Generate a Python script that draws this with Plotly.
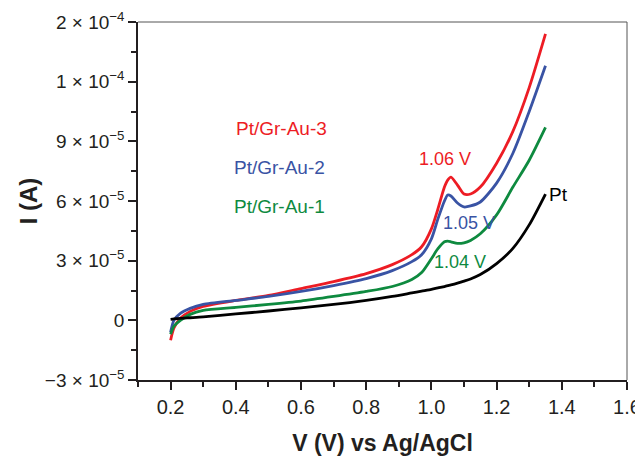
import plotly.graph_objects as go

# Potential (V vs Ag/AgCl)
V = [0.20, 0.21, 0.23, 0.26, 0.30, 0.40, 0.50, 0.60, 0.70, 0.80, 0.88, 0.94, 0.97,
     1.00, 1.02, 1.04, 1.05, 1.06, 1.08, 1.10, 1.12, 1.15, 1.20, 1.25, 1.30, 1.35]

# Current in units of 1e-5 A
I_au3 = [-1.0, -0.4, 0.1, 0.45, 0.7, 1.0, 1.25, 1.6, 1.95, 2.35, 2.8, 3.3, 3.7,
         4.6, 5.6, 6.7, 7.05, 7.2, 6.8, 6.35, 6.35, 6.7, 7.9, 9.5, 11.7, 14.4]
I_au2 = [-0.6, 0.0, 0.35, 0.6, 0.8, 1.0, 1.2, 1.45, 1.75, 2.1, 2.5, 2.95, 3.3,
         4.1, 5.1, 6.0, 6.3, 6.25, 5.9, 5.7, 5.75, 5.95, 6.9, 8.4, 10.5, 12.8]
I_au1 = [-0.7, -0.3, 0.0, 0.3, 0.5, 0.65, 0.8, 0.97, 1.2, 1.45, 1.7, 2.05, 2.4,
         3.1, 3.6, 3.95, 3.98, 3.95, 3.87, 3.9, 4.02, 4.35, 5.3, 6.7, 8.05, 9.7]
I_pt = [0.05, 0.07, 0.1, 0.13, 0.17, 0.32, 0.47, 0.63, 0.8, 1.0, 1.2, 1.38, 1.47,
        1.56, 1.63, 1.7, 1.74, 1.78, 1.87, 1.97, 2.08, 2.3, 2.85, 3.62, 4.8, 6.35]

series_names = ["Pt/Gr-Au-3", "Pt/Gr-Au-2", "Pt/Gr-Au-1", "Pt"]
series_vals = [I_au3, I_au2, I_au1, I_pt]
colors = ["#ED1C24", "#3953A4", "#0E8A3F", "#000000"]

y_tickvals = [-3, 0, 3, 6, 9, 12, 15]
y_ticktext = ["\u22123 \u00d7 10<sup>\u22125</sup>", "0",
              "3 \u00d7 10<sup>\u22125</sup>", "6 \u00d7 10<sup>\u22125</sup>",
              "9 \u00d7 10<sup>\u22125</sup>", "1 \u00d7 10<sup>\u22124</sup>",
              "2 \u00d7 10<sup>\u22124</sup>"]
x_tickvals = [0.2, 0.4, 0.6, 0.8, 1.0, 1.2, 1.4, 1.6]
x_ticktext = ["0.2", "0.4", "0.6", "0.8", "1.0", "1.2", "1.4", "1.6"]

# label annotations: (text, x, y, color)
peak_labels = [("1.06 V", 1.043, 8.1, colors[0]),
               ("1.05 V", 1.115, 4.9, colors[1]),
               ("1.04 V", 1.088, 2.95, colors[2]),
               ("Pt", 1.39, 6.35, colors[3])]
legend_labels = [("Pt/Gr-Au-3", 0.54, 9.65, colors[0]),
                 ("Pt/Gr-Au-2", 0.535, 7.7, colors[1]),
                 ("Pt/Gr-Au-1", 0.535, 5.7, colors[2])]

FONT = "Liberation Sans, Arial, sans-serif"

fig = go.Figure()
for name, vals, c in zip(series_names, series_vals, colors):
    fig.add_trace(go.Scatter(x=V, y=vals, mode="lines", name=name,
                             line=dict(color=c, width=2.8, shape="spline", smoothing=0.7),
                             showlegend=False))

for txt, x, y, c in peak_labels + legend_labels:
    fig.add_annotation(x=x, y=y, text=txt, showarrow=False,
                       font=dict(family=FONT, size=18 if "V" in txt else 19, color=c),
                       xanchor="center", yanchor="middle")

fig.update_layout(
    width=635, height=450,
    margin=dict(l=130, r=16, t=14, b=78, autoexpand=False),
    paper_bgcolor="white", plot_bgcolor="white",
    font=dict(family=FONT, color="#231F20"),
    shapes=[dict(type="line", xref="paper", yref="paper", x0=0, x1=1, y0=1, y1=1,
                 line=dict(color="#555555", width=1)),
            dict(type="line", xref="paper", yref="paper", x0=1, x1=1, y0=0, y1=1,
                 line=dict(color="#555555", width=1))],
)
fig.update_xaxes(range=[0.1, 1.6], tickvals=x_tickvals, ticktext=x_ticktext, automargin=False,
                 showgrid=False, zeroline=False, showline=True, linecolor="#231F20", linewidth=1.5,
                 ticks="outside", ticklen=8, tickwidth=1.5, tickcolor="#231F20",
                 minor=dict(tickvals=[0.1, 0.3, 0.5, 0.7, 0.9, 1.1, 1.3, 1.5], ticks="outside",
                            ticklen=5, tickwidth=1.5, tickcolor="#231F20"),
                 tickfont=dict(size=20, color="#231F20"),
                 title=dict(text="<b>V (V) vs Ag/AgCl</b>", font=dict(size=23, color="#231F20"), standoff=18))
fig.update_yaxes(range=[-3, 15], tickvals=y_tickvals, ticktext=y_ticktext, automargin=False,
                 showgrid=False, zeroline=False, showline=True, linecolor="#231F20", linewidth=1.5,
                 ticks="outside", ticklen=8, tickwidth=1.5, tickcolor="#231F20",
                 minor=dict(tickvals=[-1.5, 1.5, 4.5, 7.5, 10.5, 13.5], ticks="outside",
                            ticklen=5, tickwidth=1.5, tickcolor="#231F20"),
                 tickfont=dict(size=19, color="#231F20"),
                 title=dict(text="<b>I (A)</b>", font=dict(size=24, color="#231F20"), standoff=0))

fig.write_html("out.html")
